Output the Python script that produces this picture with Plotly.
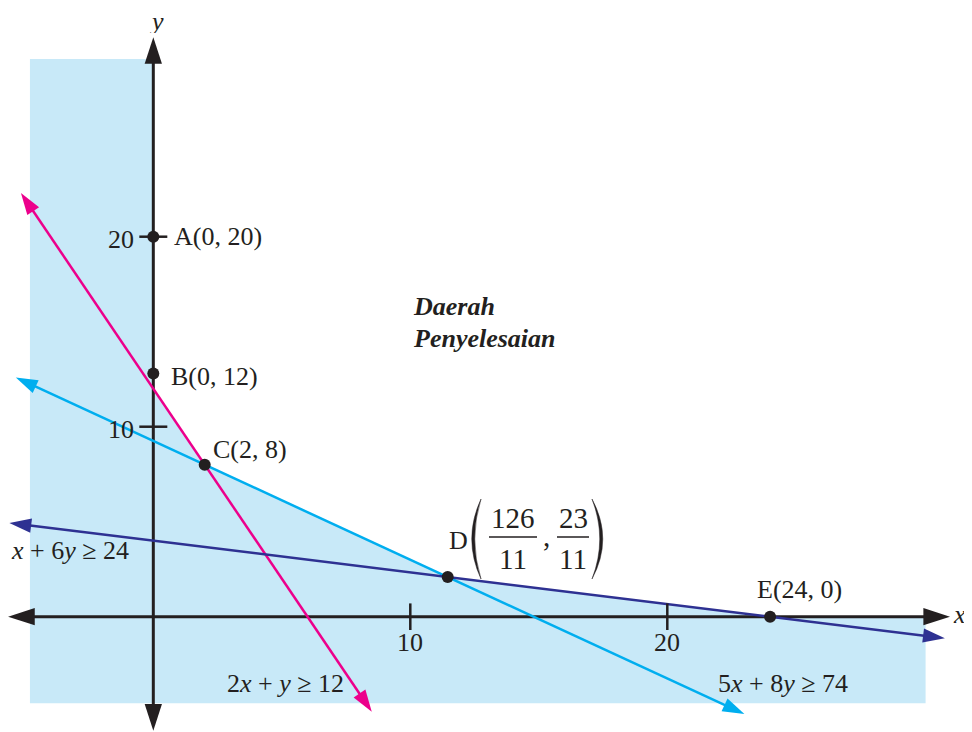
import math
import plotly.graph_objects as go

# garis kekangan: a*x + b*y = c
garis_teks = ["2<i>x</i> + <i>y</i> ≥ 12", "5<i>x</i> + 8<i>y</i> ≥ 74", "<i>x</i> + 6<i>y</i> ≥ 24"]
garis_a = [2, 5, 1]
garis_b = [1, 8, 6]
garis_c = [12, 74, 24]
garis_x_mula = [-5.15, -5.35, -5.6]
garis_x_akhir = [8.5, 23.0, 30.8]
garis_warna = ["#ec008c", "#00aeef", "#2e3192"]

# titik-titik (B dilukis sedikit di atas persilangan, seperti dalam rajah asal)
titik_nama = ["A", "B", "C", "D", "E"]
titik_x = [0, 0, 2, 126 / 11, 24]
titik_y = [20, 12.8, 8, 23 / 11, 0]

# bucu rantau tidak tersaur (B, C, D, E)
bucu_x = [0, 2, 126 / 11, 24]
bucu_y = [12, 8, 23 / 11, 0]

x_ticks = [10, 20]
y_ticks = [10, 20]

# halaman html ada jidar 8px, jadi rajah dikecilkan sedikit
OFS = 8
W, H = 964, 724
X_RANGE = [-5.654, 31.856]
Y_RANGE = [-6.068, 32.037]
SX = W / (X_RANGE[1] - X_RANGE[0])
SY = H / (Y_RANGE[1] - Y_RANGE[0])
HITAM = "#231f20"
BIRU_MUDA = "#c8e9f8"
FON = "Liberation Serif"


def kx(p):
    return (p - OFS) / W


def ky(p):
    return 1 - (p - OFS) / H


def garis_y(i, x):
    return (garis_c[i] - garis_a[i] * x) / garis_b[i]


def sudut(dx, dy):
    # sudut ikut jam dari arah atas, dalam piksel
    return math.degrees(math.atan2(dx * SX, dy * SY))


fig = go.Figure()

# kawasan berlorek (luar rantau penyelesaian)
x_kiri, x_kanan, y_bawah, y_atas = -4.8, 30.05, -4.55, 29.35
poly_x = [x_kiri, 0] + bucu_x + [x_kanan, x_kanan, x_kiri, x_kiri]
poly_y = [y_atas, y_atas] + bucu_y + [0, y_bawah, y_bawah, y_atas]
fig.add_trace(go.Scatter(x=poly_x, y=poly_y, fill="toself", fillcolor=BIRU_MUDA,
                         line=dict(width=0), mode="lines", hoverinfo="skip"))

# kepala anak panah: x, y, sudut, saiz, warna
ph_x, ph_y, ph_sudut, ph_saiz, ph_warna = [], [], [], [], []

# paksi
x_paksi = [-5.65, 31.0]
y_paksi = [-6.0, 30.5]
fig.add_trace(go.Scatter(x=[x_paksi[0] + 0.4, x_paksi[1] - 0.4], y=[0, 0], mode="lines",
                         line=dict(color=HITAM, width=3), hoverinfo="skip"))
fig.add_trace(go.Scatter(x=[0, 0], y=[y_paksi[0] + 0.5, y_paksi[1] - 0.5], mode="lines",
                         line=dict(color=HITAM, width=3), hoverinfo="skip"))
for tx, ty, dx, dy in [(x_paksi[1], 0, 1, 0), (x_paksi[0], 0, -1, 0),
                       (0, y_paksi[1], 0, 1), (0, y_paksi[0], 0, -1)]:
    ph_x.append(tx)
    ph_y.append(ty)
    ph_sudut.append(sudut(dx, dy))
    ph_saiz.append(28)
    ph_warna.append(HITAM)

# garis kekangan
for i in range(3):
    xs = [garis_x_mula[i] + 0.25, garis_x_akhir[i] - 0.25]
    ys = [garis_y(i, v) for v in xs]
    fig.add_trace(go.Scatter(x=xs, y=ys, mode="lines",
                             line=dict(color=garis_warna[i], width=2.5), hoverinfo="skip"))
    for ujung, arah in ((garis_x_mula[i], -1), (garis_x_akhir[i], 1)):
        dy = -garis_a[i] / garis_b[i] * arah
        ph_x.append(ujung)
        ph_y.append(garis_y(i, ujung))
        ph_sudut.append(sudut(arah, dy))
        ph_saiz.append(23)
        ph_warna.append(garis_warna[i])

fig.add_trace(go.Scatter(x=ph_x, y=ph_y, mode="markers", hoverinfo="skip",
                         marker=dict(symbol="arrow", size=ph_saiz, angle=ph_sudut, opacity=1,
                                     color=ph_warna, line=dict(width=0))))

# tanda senggatan
fig.add_trace(go.Scatter(x=x_ticks, y=[0] * len(x_ticks), mode="markers",
                         marker=dict(symbol="line-ns", size=19, line=dict(color=HITAM, width=2.5)),
                         hoverinfo="skip"))
fig.add_trace(go.Scatter(x=[0] * len(y_ticks), y=y_ticks, mode="markers",
                         marker=dict(symbol="line-ew", size=20, line=dict(color=HITAM, width=2.5)),
                         hoverinfo="skip"))

# titik
fig.add_trace(go.Scatter(x=titik_x, y=titik_y, mode="markers",
                         marker=dict(color=HITAM, size=12, opacity=1), hoverinfo="skip"))

fon = dict(family=FON, size=26, color=HITAM)
fon_pecahan = dict(family=FON, size=29, color=HITAM)

for t in x_ticks:
    fig.add_annotation(x=t, y=0, xref="x", yref="y", text=str(t), showarrow=False,
                       xanchor="center", yanchor="middle", yshift=-26, font=fon)
for t in y_ticks:
    fig.add_annotation(x=0, y=t, xref="x", yref="y", text=str(t), showarrow=False,
                       xanchor="right", yanchor="middle", xshift=-17, yshift=-3, font=fon)

# label titik
label = {
    "A": ("A(0, 20)", 19, 0, "left"),
    "B": ("B(0, 12)", 16, -3, "left"),
    "C": ("C(2, 8)", 6, 15, "left"),
    "E": ("E(24, 0)", 29, 27, "center"),
}
for nama, x, y in zip(titik_nama, titik_x, titik_y):
    if nama not in label:
        continue
    teks, dxs, dys, anc = label[nama]
    fig.add_annotation(x=x, y=y, xref="x", yref="y", text=teks, showarrow=False,
                       xanchor=anc, yanchor="middle", xshift=dxs, yshift=dys, font=fon)


def teks_kertas(px_, py_, teks, font, anc="center"):
    fig.add_annotation(x=kx(px_), y=ky(py_), xref="paper", yref="paper", text=teks,
                       showarrow=False, xanchor=anc, yanchor="middle", font=font)


# label D dengan pecahan
teks_kertas(458, 540, "D", fon)
for (cx, cy, s) in [(513, 518, "126"), (513, 559, "11"), (573, 518, "23"), (573, 559, "11")]:
    teks_kertas(cx, cy, s, fon_pecahan)
teks_kertas(546, 536, ",", fon_pecahan)
for (x0, x1) in [(489, 537), (557, 589)]:
    fig.add_shape(type="line", xref="paper", yref="paper", x0=kx(x0), x1=kx(x1),
                  y0=ky(537), y1=ky(537), line=dict(color=HITAM, width=1.5))


def kurungan(x_ujung, c_luar, c_dalam):
    p0 = f"{kx(x_ujung)},{ky(499)}"
    p2 = f"{kx(x_ujung)},{ky(579)}"
    return (f"M{p0} Q{kx(c_luar)},{ky(539)} {p2} "
            f"Q{kx(c_dalam)},{ky(539)} {p0} Z")


fig.add_shape(type="path", xref="paper", yref="paper", path=kurungan(481, 462.5, 468.5),
              fillcolor=HITAM, line=dict(color=HITAM, width=0.5))
fig.add_shape(type="path", xref="paper", yref="paper", path=kurungan(592, 613.5, 607.5),
              fillcolor=HITAM, line=dict(color=HITAM, width=0.5))

# label persamaan
pos_persamaan = [(225, 683), (716, 683), (9, 550)]
for teks, (px_, py_) in zip(garis_teks, pos_persamaan):
    teks_kertas(px_, py_, teks, fon, anc="left")

# rantau penyelesaian
fon_tebal = dict(family=FON, size=26, color=HITAM)
teks_kertas(411, 306, "<b><i>Daerah</i></b>", fon_tebal, anc="left")
teks_kertas(411, 338, "<b><i>Penyelesaian</i></b>", fon_tebal, anc="left")

# label paksi
fig.add_annotation(x=kx(156), y=ky(OFS), xref="paper", yref="paper", text="<i>y</i>",
                   showarrow=False, xanchor="center", yanchor="top", height=24,
                   borderpad=0, font=fon)
teks_kertas(959, 614, "<i>x</i>", fon)

fig.update_layout(
    width=W, height=H,
    margin=dict(l=0, r=0, t=0, b=0),
    paper_bgcolor="white", plot_bgcolor="white",
    showlegend=False,
    xaxis=dict(range=X_RANGE, visible=False, fixedrange=True),
    yaxis=dict(range=Y_RANGE, visible=False, fixedrange=True),
)

fig.write_html("out.html")
